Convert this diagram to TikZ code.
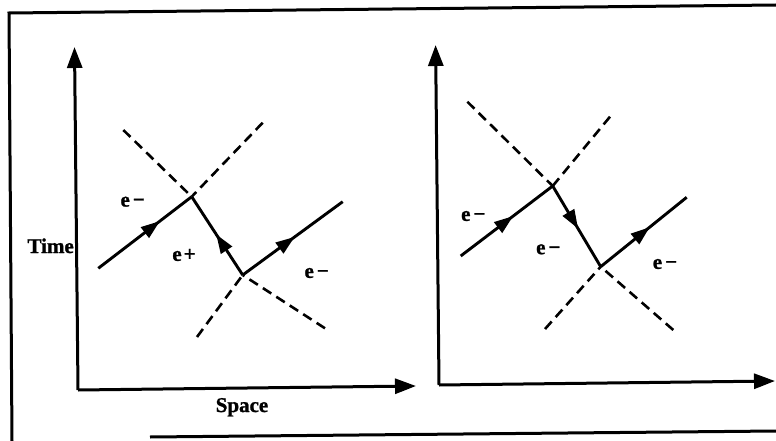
\documentclass[tikz,border=0pt]{standalone}
\usepackage{fontspec}
\setmainfont{Liberation Serif}[BoldFeatures={FakeBold=1.2}]
\usetikzlibrary{arrows.meta,decorations.markings}
\tikzset{
  frameline/.style={line width=3pt},
  axisline/.style={line width=3pt,-{Triangle[length=21pt,width=15pt]}},
  particle/.style={line width=2.9pt},
  photon/.style={line width=2.6pt,dash pattern=on 10pt off 6pt},
  arrowat/.style={postaction={decorate},decoration={markings,
     mark=at position #1 with {\arrow{Triangle[length=19pt,width=13pt]}}}},
  lbl/.style={font=\bfseries\fontsize{21}{21}\selectfont,inner sep=0pt},
}
\begin{document}
\begin{tikzpicture}[x=1pt,y=-1pt]
\useasboundingbox (0,0) rectangle (776,441);
% frame
\coordinate (F1) at (12,441);
\coordinate (F2) at (9,13);
\coordinate (F3) at (776,5);
\coordinate (F4) at (150,437);
\coordinate (F5) at (776,431);
\draw[frameline] (F1) -- (F2) -- (F3);
\draw[frameline] (F4) -- (F5);
% left axes
\coordinate (O1) at (78,390);
\coordinate (T1) at (74.5,47);
\coordinate (S1) at (416,386);
\draw[axisline] (O1) -- (T1);
\draw[axisline] (O1) -- (S1);
\node[lbl,anchor=base east] (time) at (74,253) {Time};
\node[lbl,anchor=base] (space) at (242,412) {Space};
% right axes
\coordinate (O2) at (439,385);
\coordinate (T2) at (435.6,45);
\coordinate (S2) at (775,381);
\draw[axisline] (O2) -- (T2);
\draw[axisline] (O2) -- (S2);
% left diagram
\coordinate (A) at (191.7,196.7);
\coordinate (B) at (242.7,275);
\coordinate (Ain) at (98.3,268.3);
\coordinate (Bout) at (342.7,201.7);
\coordinate (Atl) at (123.3,130);
\coordinate (Atr) at (262.7,122.7);
\coordinate (Bbl) at (197,337);
\coordinate (Bbr) at (325,328.3);
\draw[photon] (Atl) -- (A);
\draw[photon] (Atr) -- (A);
\draw[photon] (Bbl) -- (B);
\draw[photon] (Bbr) -- (B);
\draw[particle,arrowat=0.66] (Ain) -- (A);
\draw[particle,arrowat=0.52] (B) -- (A);
\draw[particle,arrowat=0.52] (B) -- (Bout);
\node[lbl] (l1) at (132.7,201.7) {e\kern3pt−};
\node[lbl] (l2) at (184,255) {e\kern2pt+};
\node[lbl] (l3) at (316.7,273) {e\kern3pt−};
% right diagram
\coordinate (C) at (552.7,186);
\coordinate (D) at (600.7,266.7);
\coordinate (Cin) at (460.7,256);
\coordinate (Dout) at (686.7,197.3);
\coordinate (Ctl) at (467.3,101.7);
\coordinate (Ctr) at (610,116.7);
\coordinate (Dbl) at (545,329);
\coordinate (Dbr) at (673.3,330);
\draw[photon] (Ctl) -- (C);
\draw[photon] (Ctr) -- (C);
\draw[photon] (Dbl) -- (D);
\draw[photon] (Dbr) -- (D);
\draw[particle,arrowat=0.57] (Cin) -- (C);
\draw[particle,arrowat=0.53] (C) -- (D);
\draw[particle,arrowat=0.57] (D) -- (Dout);
\node[lbl] (r1) at (473.3,216) {e\kern3pt−};
\node[lbl] (r2) at (548.3,249.3) {e\kern3pt−};
\node[lbl] (r3) at (665,264) {e\kern3pt−};
\end{tikzpicture}
\end{document}
